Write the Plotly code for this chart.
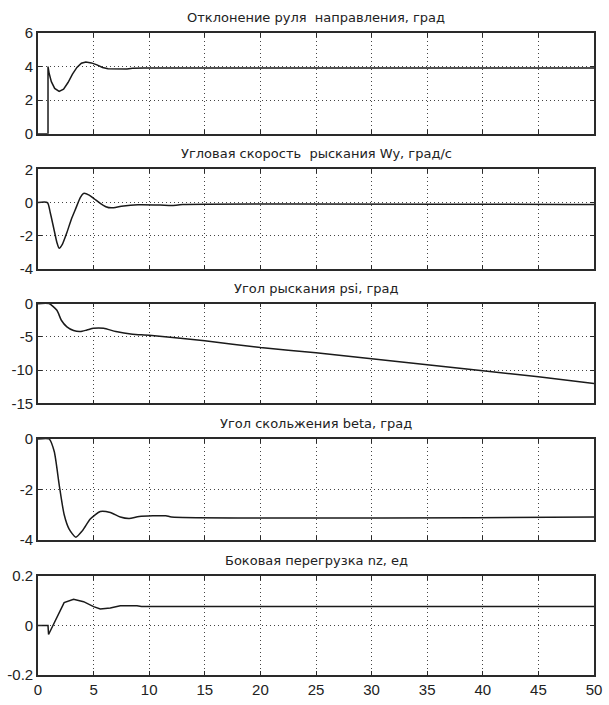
import plotly.graph_objects as go

# ---- data ----
t_rudder = [0, 0.9, 0.9, 1.0, 1.2, 1.5, 1.9, 2.3, 2.7, 3.1, 3.5, 3.9, 4.3, 4.8, 5.3, 5.8, 6.3, 7.0, 8.0, 8.5, 9.5, 50]
v_rudder = [0, 0, 4.0, 3.6, 3.1, 2.7, 2.52, 2.65, 3.05, 3.55, 3.95, 4.2, 4.27, 4.22, 4.1, 3.95, 3.87, 3.85, 3.85, 3.9, 3.92, 3.92]

t_wy = [0, 0.85, 1.1, 1.4, 1.7, 1.9, 2.2, 2.6, 3.0, 3.4, 3.8, 4.1, 4.6, 5.1, 5.6, 6.1, 6.6, 7.5, 9.0, 11, 12, 13, 50]
v_wy = [0, 0, -0.6, -1.5, -2.4, -2.75, -2.5, -1.8, -1.0, -0.35, 0.3, 0.55, 0.45, 0.2, -0.05, -0.25, -0.32, -0.22, -0.13, -0.15, -0.18, -0.12, -0.12]

t_psi = [0, 1.0, 1.7, 2.1, 2.6, 3.2, 3.8, 4.4, 5.0, 5.9, 7.0, 8.5, 10, 15, 20, 25, 30, 35, 40, 45, 50]
v_psi = [0, 0, -1.0, -2.5, -3.5, -4.05, -4.2, -3.96, -3.7, -3.7, -4.2, -4.6, -4.75, -5.6, -6.6, -7.4, -8.3, -9.2, -10.1, -11.0, -12.0]

t_beta = [0, 1.0, 1.46, 1.9, 2.35, 2.8, 3.4, 4.0, 4.7, 5.6, 6.5, 7.4, 8.2, 9.1, 11.5, 12.0, 50]
v_beta = [0, 0, -0.5, -1.8, -3.0, -3.58, -3.9, -3.64, -3.18, -2.88, -2.92, -3.1, -3.16, -3.08, -3.05, -3.1, -3.1]

t_nz = [0, 0.9, 0.95, 1.45, 1.9, 2.35, 3.2, 4.1, 5.0, 5.6, 6.5, 7.4, 8.9, 9.3, 50]
v_nz = [0, 0, -0.036, 0.011, 0.057, 0.093, 0.107, 0.097, 0.077, 0.067, 0.071, 0.080, 0.080, 0.077, 0.077]

titles = [
    "Отклонение руля\u00a0 направления, град",
    "Угловая скорость\u00a0 рыскания Wy, град/с",
    "Угол рыскания psi, град",
    "Угол скольжения beta, град",
    "Боковая перегрузка nz, ед",
]
y_ranges = [[0, 6], [-4, 2], [-15, 0], [-4, 0], [-0.2, 0.2]]
y_ticks = [[0, 2, 4, 6], [-4, -2, 0, 2], [-15, -10, -5, 0], [-4, -2, 0], [-0.2, 0, 0.2]]
y_ticktext = [["0", "2", "4", "6"], ["-4", "-2", "0", "2"], ["-15", "-10", "-5", "0"],
              ["-4", "-2", "0"], ["-0.2", "0", "0.2"]]
x_ticks = [0, 5, 10, 15, 20, 25, 30, 35, 40, 45, 50]

series = [(t_rudder, v_rudder), (t_wy, v_wy), (t_psi, v_psi), (t_beta, v_beta), (t_nz, v_nz)]
shapes = ["linear", "spline", "spline", "spline", "linear"]

# ---- layout ----
W, H = 609, 705
ml, mr, mt, mb = 37, 7, 33, 22
plot_h = H - mt - mb
px_ext = [(33, 135), (171, 272), (307, 408), (444, 546), (583, 683)]
domains = [[(683 - b) / plot_h, (683 - t) / plot_h] for (t, b) in px_ext]
domains = [[max(0, d0), min(1, d1)] for d0, d1 in domains]

fig = go.Figure()
tick_font = dict(family="Liberation Sans Narrow, Liberation Sans, Arial", size=15, color="#222")
title_font = dict(family="DejaVu Sans", size=13, color="#222")
axis_common = dict(
    showline=True, linecolor="#2a2a2a", linewidth=1.6, mirror="ticks",
    ticks="inside", ticklen=4, tickwidth=1.4, tickcolor="#2a2a2a",
    showgrid=True, gridcolor="#444444", gridwidth=1, griddash="1px,3px",
    zeroline=False, tickfont=tick_font,
)

layout = dict(
    width=W, height=H, margin=dict(l=ml, r=mr, t=mt, b=mb),
    paper_bgcolor="white", plot_bgcolor="white", showlegend=False,
    annotations=[],
)

for i, ((tx, vy), title) in enumerate(zip(series, titles)):
    n = "" if i == 0 else str(i + 1)
    line = dict(color="#1a1a1a", width=1.5, shape=shapes[i])
    if shapes[i] == "spline":
        line["smoothing"] = 0.6
    fig.add_trace(go.Scatter(x=tx, y=vy, mode="lines", line=line,
                             xaxis="x" + n, yaxis="y" + n, hoverinfo="skip"))
    layout["xaxis" + n] = dict(axis_common, domain=[0, 1], range=[0, 50],
                               tickvals=x_ticks, anchor="y" + n,
                               showticklabels=(i == 4))
    layout["yaxis" + n] = dict(axis_common, domain=domains[i], range=y_ranges[i],
                               tickvals=y_ticks[i], ticktext=y_ticktext[i],
                               anchor="x" + n)
    layout["annotations"].append(dict(
        text=title, xref="paper", yref="paper", x=0.5, y=domains[i][1],
        xanchor="center", yanchor="bottom", yshift=6, showarrow=False,
        font=title_font))

fig.update_layout(**layout)
fig.write_html("out.html")
